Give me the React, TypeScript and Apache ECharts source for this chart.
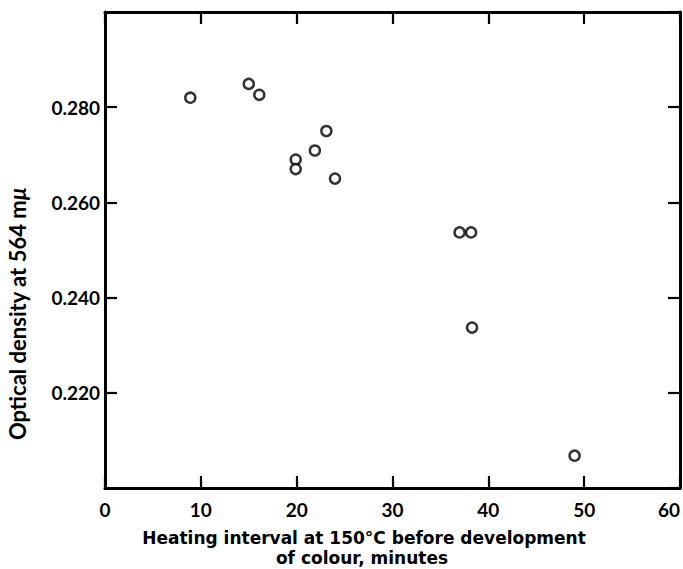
import React, { useEffect, useRef } from "react";
import * as echarts from "echarts";

const xValues = [8.9, 15.0, 16.1, 19.9, 19.9, 21.9, 23.1, 24.0, 37.0, 38.2, 38.3, 49.0];
const yValues = [0.282, 0.2849, 0.2826, 0.269, 0.267, 0.2709, 0.275, 0.265, 0.2537, 0.2537, 0.2337, 0.2068];
const xTitleLines = ["Heating interval at 150°C before development", "of colour, minutes"];
const yTitle = "Optical density at 564 m";
const yTitleUnit = "μ";

const FONT = "Lato";
const TFONT = "DejaVu Sans";

function mkLine() {
  return { show: true, onZero: false, lineStyle: { color: "#000", width: 3 } };
}
function mkTick() {
  return { show: true, inside: true, length: 12, lineStyle: { color: "#000", width: 2.2 } };
}

export default function App() {
  const ref = useRef<HTMLDivElement>(null);
  useEffect(() => {
    if (!ref.current) return;
    const chart = echarts.init(ref.current, undefined, { renderer: "svg" });
    const fmtY = (v: number) => {
      if (Math.abs(v - 0.2) < 1e-6 || Math.abs(v - 0.3) < 1e-6) return "";
      return v.toFixed(3);
    };
    const data = xValues.map((x, i) => [x, yValues[i]]);
    const titleStyle = {
      fontFamily: TFONT,
      fontWeight: "bold",
      fontSize: 17,
      fill: "#000",
      textAlign: "center",
      textVerticalAlign: "top",
    };
    chart.setOption({
      animation: false,
      backgroundColor: "#fff",
      grid: { left: 105, right: 3, top: 12, bottom: 81, containLabel: false },
      xAxis: [
        {
          type: "value", position: "bottom", min: 0, max: 60, interval: 10,
          axisLine: mkLine(), axisTick: mkTick(), splitLine: { show: false },
          axisLabel: { color: "#000", fontFamily: FONT, fontWeight: "bold", fontSize: 19, margin: 12, alignMaxLabel: "right" },
        },
        {
          type: "value", position: "top", min: 0, max: 60, interval: 10,
          axisLine: mkLine(), axisTick: mkTick(), splitLine: { show: false }, axisLabel: { show: false },
        },
      ],
      yAxis: [
        {
          type: "value", position: "left", min: 0.2, max: 0.3, interval: 0.02,
          axisLine: mkLine(), axisTick: mkTick(), splitLine: { show: false },
          axisLabel: {
            color: "#000", fontFamily: FONT, fontWeight: "bold", fontSize: 19, margin: 5,
            formatter: fmtY, showMinLabel: false, showMaxLabel: false,
          },
        },
        {
          type: "value", position: "right", min: 0.2, max: 0.3, interval: 0.02,
          axisLine: mkLine(), axisTick: mkTick(), splitLine: { show: false }, axisLabel: { show: false },
        },
      ],
      series: [
        {
          type: "scatter",
          data,
          symbol: "circle",
          symbolSize: 10,
          itemStyle: { color: "#fff", borderColor: "#000", borderWidth: 2.5 },
        },
      ],
      graphic: [
        { type: "text", x: 364, y: 529, style: { ...titleStyle, text: xTitleLines[0] } },
        { type: "text", x: 362, y: 549, style: { ...titleStyle, text: xTitleLines[1] } },
        {
          type: "text",
          x: 17,
          y: 314,
          rotation: Math.PI / 2,
          style: {
            text: "{n|" + yTitle + "}{i|" + yTitleUnit + "}",
            rich: {
              n: { fontFamily: FONT, fontWeight: "bold", fontSize: 22, fill: "#000" },
              i: { fontFamily: FONT, fontWeight: "bold", fontStyle: "italic", fontSize: 22, fill: "#000" },
            },
            textAlign: "center",
            textVerticalAlign: "middle",
          },
        },
      ],
    });
    return () => chart.dispose();
  }, []);
  return (
    <div
      ref={ref}
      style={{ position: "absolute", left: 0, top: 0, width: 683, height: 569, background: "#fff" }}
    />
  );
}
